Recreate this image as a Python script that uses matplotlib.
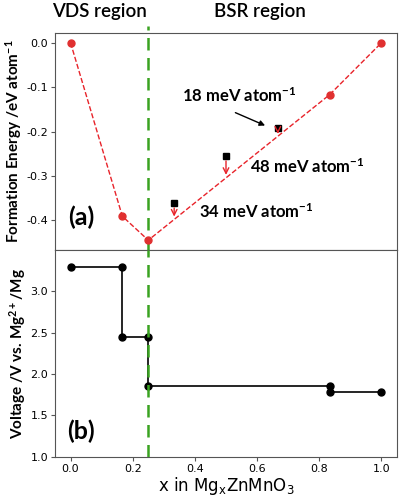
import matplotlib.pyplot as plt

plt.rcParams["axes.unicode_minus"] = False
plt.rcParams["mathtext.default"] = "regular"

# convex hull (formation energy)
hull_x = [0.0, 1 / 6, 0.25, 5 / 6, 1.0]
hull_e = [0.0, -0.391, -0.445, -0.117, 0.0]

# metastable phases above the hull
above_x = [1 / 3, 0.5, 2 / 3]
above_e = [-0.362, -0.256, -0.191]
above_hull = [-0.398, -0.304, -0.211]
above_labels = ["34 meV atom$^{-1}$", "48 meV atom$^{-1}$", "18 meV atom$^{-1}$"]

# voltage profile
volt_x = [0.0, 1 / 6, 1 / 6, 0.25, 0.25, 5 / 6, 5 / 6, 1.0]
volt_v = [3.30, 3.30, 2.45, 2.45, 1.85, 1.85, 1.78, 1.78]

label_font = ["Lato", "DejaVu Sans"]

fig = plt.figure(figsize=(4.0, 4.97), dpi=100)
ax1 = fig.add_axes([0.1375, 0.497, 0.855, 0.4366])
ax2 = fig.add_axes([0.1375, 0.0811, 0.855, 0.4159], sharex=ax1)

for ax in (ax1, ax2):
    for s in ax.spines.values():
        s.set_color("#555555")
    ax.tick_params(labelsize=8, color="#555555", length=3, pad=2)

# (a) formation energy
ax1.plot(hull_x, hull_e, "--", color="#e8232a", lw=1, marker="o", ms=5,
         markerfacecolor="#e03030", markeredgecolor="#e03030")
ax1.plot(above_x, above_e, "s", color="black", ms=5)
for x, e, h in zip(above_x, above_e, above_hull):
    ax1.annotate("", xy=(x, h), xytext=(x, e - 0.004),
                 arrowprops=dict(arrowstyle="->", color="#e8232a", lw=1))
ax1.text(0.413, -0.380, above_labels[0], fontsize=12, fontweight="bold",
         family=label_font, va="center")
ax1.text(0.577, -0.279, above_labels[1], fontsize=12, fontweight="bold",
         family=label_font, va="center")
ax1.text(0.359, -0.119, above_labels[2], fontsize=12, fontweight="bold",
         family=label_font, va="center")
ax1.annotate("", xy=(0.634, -0.189), xytext=(0.522, -0.155),
             arrowprops=dict(arrowstyle="-|>", color="black", lw=1,
                             mutation_scale=8))
ax1.axvline(0.25, ymin=0, ymax=1.03, color="#3aa321", ls=(0, (5, 3)),
            lw=1.8, clip_on=False, zorder=0)
ax1.set_ylim(-0.467, 0.022)
ax1.set_yticks([0.0, -0.1, -0.2, -0.3, -0.4])
ax1.set_ylabel("Formation Energy /eV atom$^{-1}$", fontsize=11,
               fontweight="bold", family=label_font, labelpad=2)
ax1.tick_params(axis="x", bottom=False, labelbottom=False)
ax1.text(-0.008, -0.393, "(a)", fontsize=18, fontweight="bold",
         family=label_font, va="center")

# (b) voltage
ax2.plot(volt_x, volt_v, "-", color="black", lw=1.2, marker="o", ms=5)
ax2.axvline(0.25, color="#3aa321", ls=(0, (5, 3)), lw=1.8, zorder=3)
ax2.set_ylim(1.0, 3.5)
ax2.set_yticks([1.0, 1.5, 2.0, 2.5, 3.0])
ax2.set_xlim(-0.05, 1.05)
ax2.set_xticks([0.0, 0.2, 0.4, 0.6, 0.8, 1.0])
ax2.set_ylabel("Voltage /V vs. Mg$^{2+}$/Mg", fontsize=11, fontweight="bold",
               family=label_font, labelpad=2)
ax2.set_xlabel("x in Mg$_x$ZnMnO$_3$", fontsize=12, labelpad=1)
ax2.text(-0.012, 1.31, "(b)", fontsize=18, fontweight="bold",
         family=label_font, va="center")

fig.text(0.248, 0.977, "VDS region", fontsize=13.5, ha="center", va="center",
         family=label_font, fontweight="semibold")
fig.text(0.65, 0.977, "BSR region", fontsize=13.5, ha="center", va="center",
         family=label_font, fontweight="semibold")

fig.savefig("out.png", dpi=100)
